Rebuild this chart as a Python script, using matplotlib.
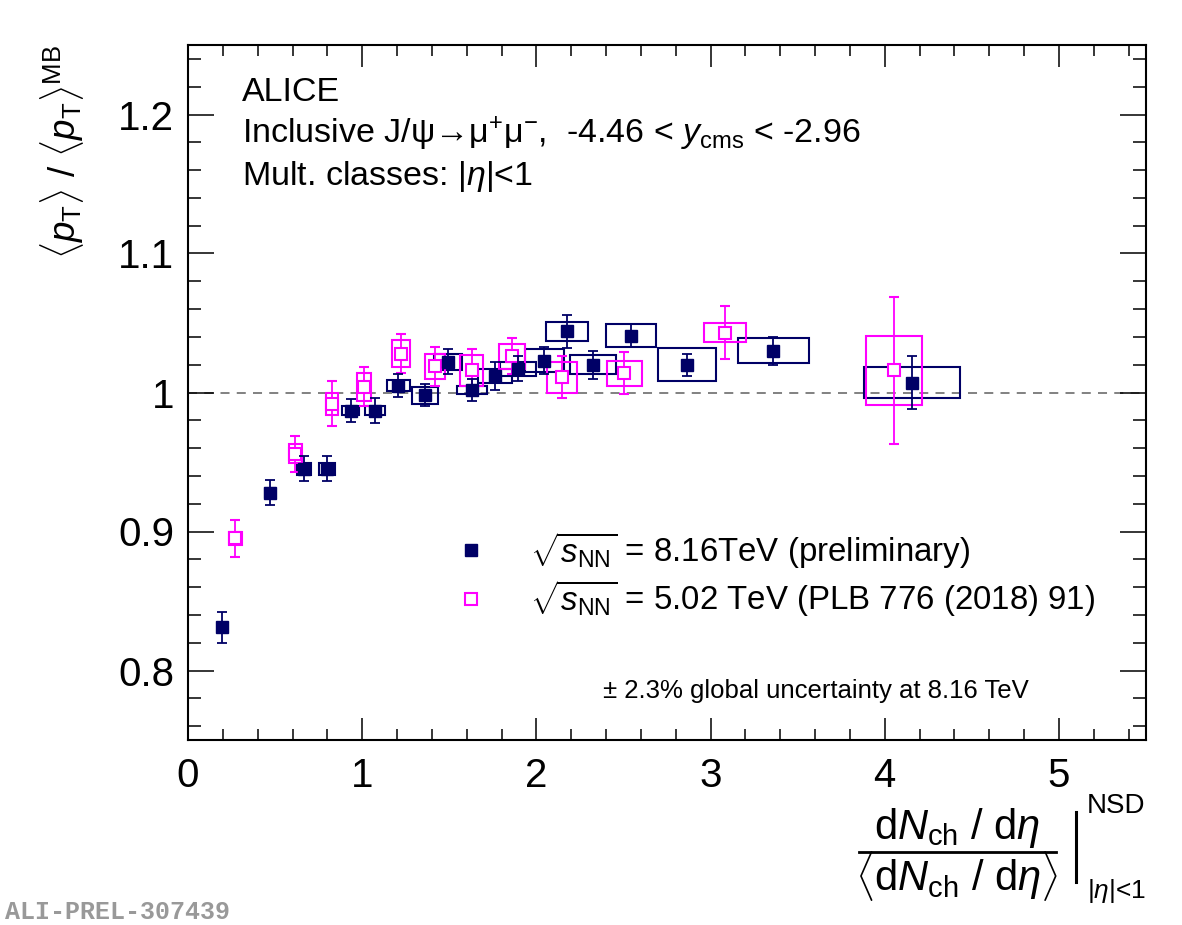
import matplotlib
matplotlib.use("Agg")
import matplotlib.pyplot as plt
from matplotlib.patches import Rectangle
from matplotlib.lines import Line2D
from matplotlib.ticker import MultipleLocator

plt.rcParams['font.family'] = ['Liberation Sans', 'DejaVu Sans']
plt.rcParams['mathtext.fontset'] = 'custom'
plt.rcParams['mathtext.rm'] = 'Liberation Sans'
plt.rcParams['mathtext.it'] = 'Liberation Sans:italic'
plt.rcParams['mathtext.bf'] = 'Liberation Sans:bold'

# 8.16 TeV (preliminary)
x816 = [0.195, 0.470, 0.665, 0.797, 0.933, 1.073, 1.207, 1.360, 1.494, 1.629,
        1.762, 1.896, 2.044, 2.178, 2.324, 2.542, 2.864, 3.359, 4.157]
y816 = [0.831, 0.928, 0.945, 0.945, 0.987, 0.987, 1.005, 0.998, 1.022, 1.002,
        1.012, 1.017, 1.023, 1.044, 1.020, 1.041, 1.020, 1.030, 1.007]
stat816 = [0.011, 0.009, 0.009, 0.009, 0.008, 0.009, 0.008, 0.008, 0.009, 0.008,
           0.010, 0.009, 0.010, 0.012, 0.010, 0.008, 0.008, 0.010, 0.019]
sys816 = [0.002, 0.003, 0.004, 0.004, 0.003, 0.003, 0.004, 0.006, 0.006, 0.003,
          0.005, 0.005, 0.008, 0.007, 0.007, 0.008, 0.012, 0.009, 0.011]
dx816 = [0.020, 0.030, 0.040, 0.046, 0.051, 0.057, 0.065, 0.076, 0.079, 0.086,
         0.098, 0.102, 0.112, 0.121, 0.131, 0.144, 0.167, 0.204, 0.278]

# 5.02 TeV (PLB 776 (2018) 91)
x502 = [0.272, 0.617, 0.828, 1.011, 1.221, 1.418, 1.629, 1.859, 2.146, 2.506, 3.085, 4.052]
y502 = [0.895, 0.956, 0.992, 1.004, 1.028, 1.019, 1.016, 1.026, 1.011, 1.014, 1.043, 1.016]
stat502 = [0.013, 0.013, 0.016, 0.014, 0.014, 0.014, 0.015, 0.013, 0.015, 0.015, 0.019, 0.053]
sys502 = [0.0045, 0.007, 0.008, 0.010, 0.010, 0.009, 0.011, 0.009, 0.011, 0.009, 0.007, 0.025]
dx502 = [0.037, 0.036, 0.036, 0.041, 0.051, 0.057, 0.067, 0.076, 0.086, 0.098, 0.121, 0.161]

navy = '#000066'
mag = '#ff00ff'

W, H = 1182, 925
fig = plt.figure(figsize=(W/100, H/100), dpi=100)
ax = fig.add_axes([188/W, 1-740/H, (1146-188)/W, (740-45)/H])

def fx(px):
    return px/W

def fy(py):
    return 1 - py/H

ax.axhline(1.0, color='#777777', lw=1.3, ls=(0, (5, 4)), zorder=1)

for x, y, dx, dy in zip(x816, y816, dx816, sys816):
    ax.add_patch(Rectangle((x-dx, y-dy), 2*dx, 2*dy, fill=False, ec=navy, lw=1.5, zorder=2))
for x, y, dx, dy in zip(x502, y502, dx502, sys502):
    ax.add_patch(Rectangle((x-dx, y-dy), 2*dx, 2*dy, fill=False, ec=mag, lw=1.5, zorder=3))

ax.errorbar(x502, y502, yerr=stat502, fmt='s', color=mag, ms=9, mfc='white', mec=mag,
            mew=1.5, elinewidth=1.3, capsize=3.5, capthick=1.3, zorder=4)
ax.errorbar(x816, y816, yerr=stat816, fmt='s', color=navy, ms=8.5, mfc=navy, mec=navy,
            elinewidth=1.3, capsize=3.5, capthick=1.3, zorder=5)

ax.set_xlim(0, 5.5)
ax.set_ylim(0.75, 1.25)
ax.xaxis.set_major_locator(MultipleLocator(1))
ax.xaxis.set_minor_locator(MultipleLocator(0.2))
ax.yaxis.set_major_locator(MultipleLocator(0.1))
ax.yaxis.set_minor_locator(MultipleLocator(0.02))
ax.set_xticks([0, 1, 2, 3, 4, 5])
ax.set_xticklabels(['0', '1', '2', '3', '4', '5'])
ax.set_yticks([0.8, 0.9, 1.0, 1.1, 1.2])
ax.set_yticklabels(['0.8', '0.9', '1', '1.1', '1.2'])
ax.tick_params(axis='both', which='both', direction='in', top=True, right=True,
               width=1.1, labelsize=29)
ax.tick_params(axis='x', which='major', length=16, pad=12)
ax.tick_params(axis='x', which='minor', length=8)
ax.tick_params(axis='y', which='major', length=19, pad=10)
ax.tick_params(axis='y', which='minor', length=9.5)
for s in ax.spines.values():
    s.set_linewidth(1.5)

# header text
ax.text(fx(242), fy(101), 'ALICE', transform=fig.transFigure, fontsize=24.5, va='baseline')
ax.text(fx(242), fy(143), r'Inclusive J/ψ→μ$^{+}$μ$^{-}$,  -4.46 < $y_{\rm cms}$ < -2.96',
        transform=fig.transFigure, fontsize=24.5, va='baseline')
ax.text(fx(242), fy(185), r'Mult. classes: |$\eta$|<1', transform=fig.transFigure,
        fontsize=24.5, va='baseline')

# legend
h1 = Line2D([], [], ls='none', marker='s', ms=8.5, mfc=navy, mec=navy)
h2 = Line2D([], [], ls='none', marker='s', ms=9, mfc='white', mec=mag, mew=1.5)
ax.legend([h1, h2], [r'$\sqrt{s_{\rm NN}}$ = 8.16TeV (preliminary)',
                     r'$\sqrt{s_{\rm NN}}$ = 5.02 TeV (PLB 776 (2018) 91)'],
          loc='upper left', bbox_to_anchor=(fx(454), fy(530)), bbox_transform=fig.transFigure,
          frameon=False, fontsize=23.8, handlelength=1, handletextpad=1.3,
          borderpad=0, borderaxespad=0, labelspacing=0.25)

ax.text(fx(603), fy(698), '± 2.3% global uncertainty at 8.16 TeV', transform=fig.transFigure,
        fontsize=18.5, va='baseline')

# y title
fig.text(fx(62), fy(45), r'$\langle p_{\rm T}\rangle$ / $\langle p_{\rm T}\rangle^{\rm MB}$',
         rotation=90, ha='center', va='top', fontsize=26.5)

# x title
fig.text(fx(957), fy(839), r'd$N_{\rm ch}$ / d$\eta$', ha='center', va='baseline', fontsize=30)
fig.text(fx(957), fy(891), r'$\langle$d$N_{\rm ch}$ / d$\eta\rangle$', ha='center',
         va='baseline', fontsize=30)
fig.add_artist(Line2D([fx(859), fx(1056)], [fy(852), fy(852)], color='black', lw=2,
                      transform=fig.transFigure))
fig.add_artist(Line2D([fx(1076), fx(1076)], [fy(812), fy(882)], color='black', lw=2.2,
                      transform=fig.transFigure))
fig.text(fx(1087), fy(813), 'NSD', ha='left', va='baseline', fontsize=20)
fig.text(fx(1087), fy(898), r'|$\eta$|<1', ha='left', va='baseline', fontsize=19)

fig.text(fx(5), fy(919), 'ALI-PREL-307439', fontsize=18, color='#999999',
         family='Liberation Mono', weight='bold', va='baseline')

fig.savefig('out.png', dpi=100)
